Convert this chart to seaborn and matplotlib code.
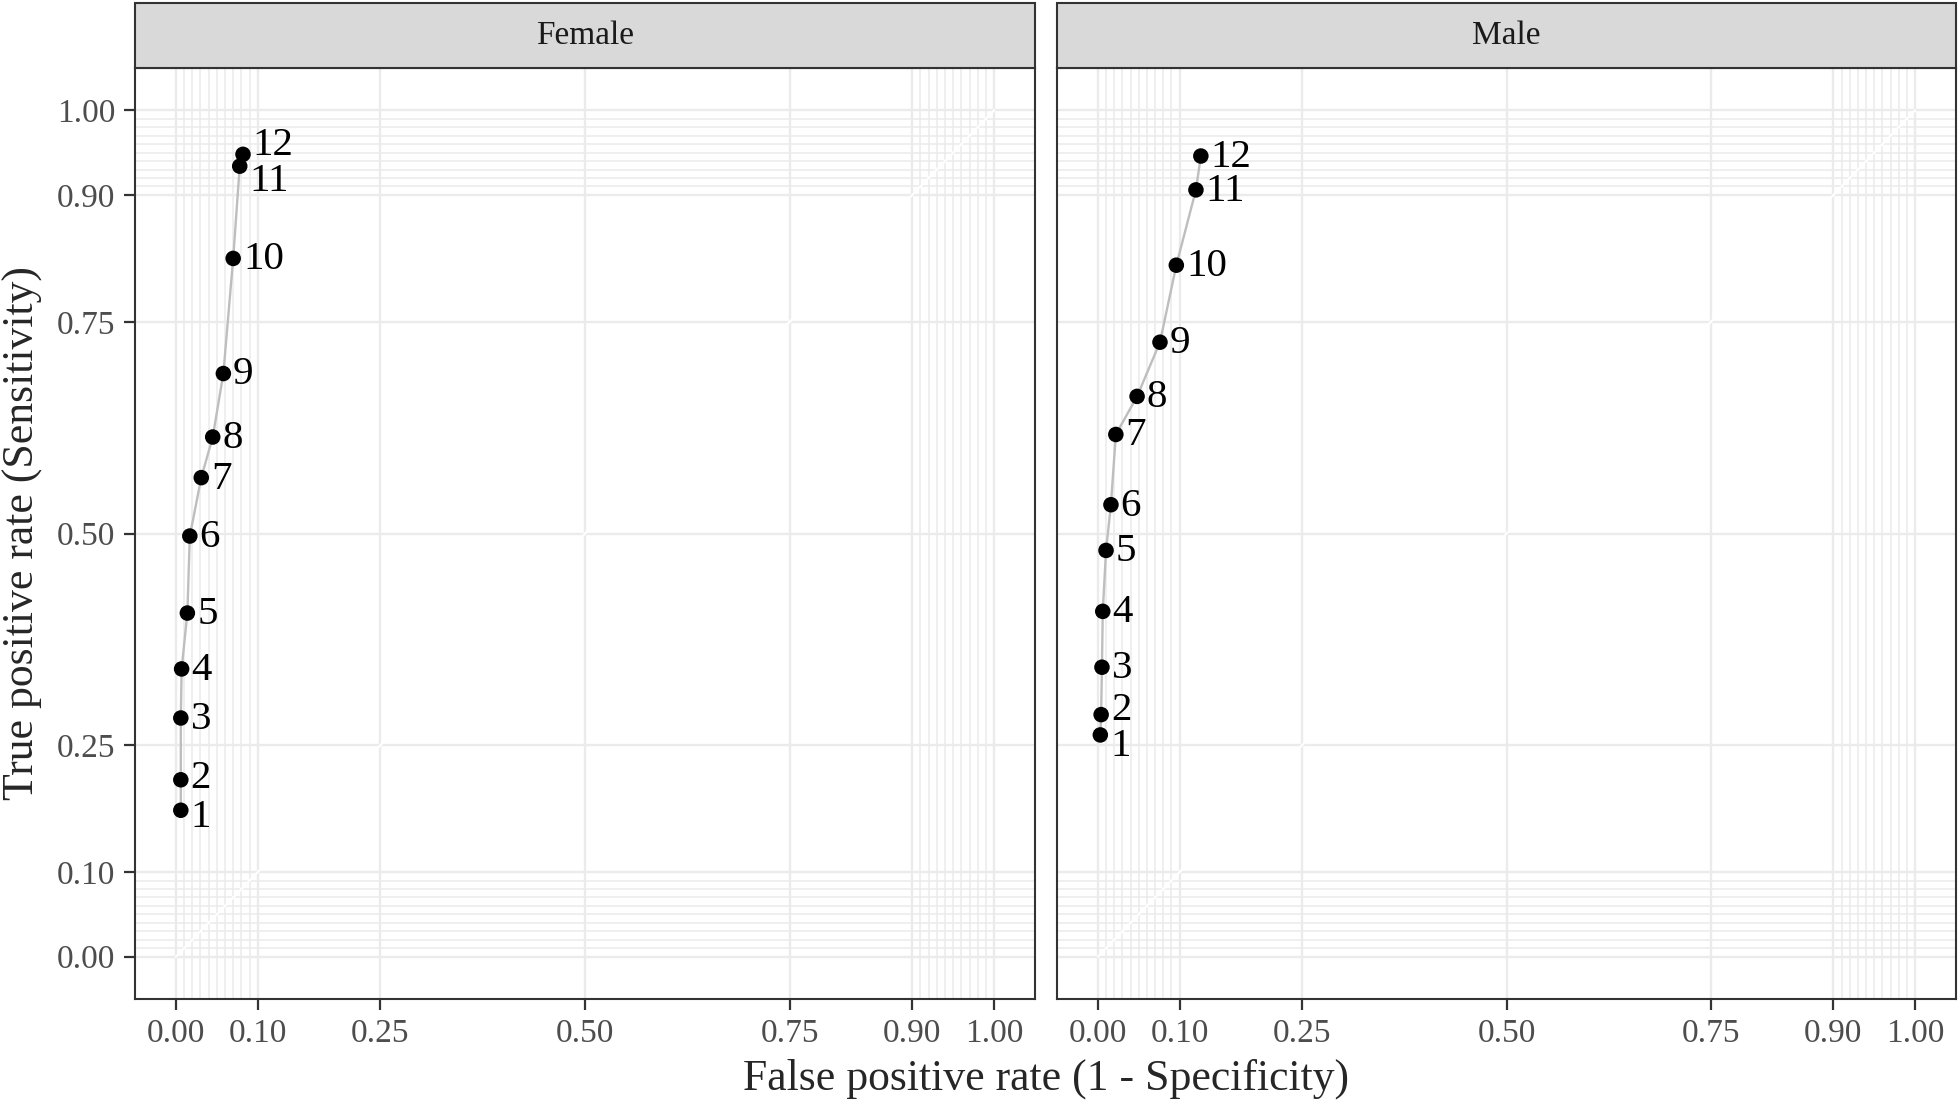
import pandas as pd
import matplotlib
matplotlib.use('Agg')
import matplotlib.pyplot as plt
import seaborn as sns
import numpy as np
from matplotlib.patches import Rectangle

# ROC points
panels = ['Female', 'Male']
cutoffs = list(range(1, 13))
female_fpr = [0.006, 0.006, 0.006, 0.007, 0.014, 0.017, 0.031, 0.045, 0.058, 0.070, 0.078, 0.082]
female_tpr = [0.173, 0.209, 0.282, 0.340, 0.406, 0.497, 0.566, 0.614, 0.689, 0.825, 0.934, 0.948]
male_fpr = [0.003, 0.004, 0.005, 0.006, 0.010, 0.016, 0.022, 0.048, 0.076, 0.096, 0.120, 0.126]
male_tpr = [0.262, 0.286, 0.342, 0.408, 0.480, 0.534, 0.617, 0.662, 0.726, 0.817, 0.906, 0.946]

major_breaks = [0.0, 0.1, 0.25, 0.5, 0.75, 0.9, 1.0]
major_labels = ['0.00', '0.10', '0.25', '0.50', '0.75', '0.90', '1.00']

df = pd.concat([
    pd.DataFrame({'panel': 'Female', 'cut': cutoffs, 'fpr': female_fpr, 'tpr': female_tpr}),
    pd.DataFrame({'panel': 'Male', 'cut': cutoffs, 'fpr': male_fpr, 'tpr': male_tpr}),
])

sns.set_theme(style='white')
plt.rcParams['font.family'] = ['Liberation Serif', 'DejaVu Serif']

W, H = 1960, 1104
fig = plt.figure(figsize=(W / 100, H / 100), dpi=100)

# panel boxes in pixels (left, right)
boxes = [(135, 1035), (1057, 1956)]
top_px, bot_px = 68, 999
strip_h = 65

# small label nudges (points) where labels would overlap
nudges = {('Female', 12): (0, 7), ('Female', 11): (0, -10),
          ('Female', 2): (0, 2), ('Female', 1): (0, -4),
          ('Male', 2): (0, 4), ('Male', 1): (0, -7)}

minor = np.r_[np.arange(0.01, 0.1, 0.01), np.arange(0.91, 1.0, 0.01)]
grid_c = '#EBEBEB'

for i, (name, (l, r)) in enumerate(zip(panels, boxes)):
    ax = fig.add_axes([l / W, 1 - bot_px / H, (r - l) / W, (bot_px - top_px) / H])
    ax.set_xlim(-0.05, 1.05)
    ax.set_ylim(-0.05, 1.05)
    for v in minor:
        ax.axvline(v, color=grid_c, lw=1.1, zorder=0)
        ax.axhline(v, color=grid_c, lw=1.1, zorder=0)
    for v in major_breaks:
        ax.axvline(v, color=grid_c, lw=1.7, zorder=0)
        ax.axhline(v, color=grid_c, lw=1.7, zorder=0)
    # white reference diagonal
    ax.plot([0, 1], [0, 1], color='white', lw=1.6, zorder=1)

    sub = df[df['panel'] == name]
    sns.lineplot(data=sub, x='fpr', y='tpr', sort=False, estimator=None,
                 color='#BEBEBE', lw=1.7, ax=ax, zorder=2)
    sns.scatterplot(data=sub, x='fpr', y='tpr', color='black', s=125,
                    edgecolor='none', ax=ax, zorder=3)
    for _, row in sub.iterrows():
        dx, dy = nudges.get((name, row['cut']), (0, 0))
        ax.annotate(str(row['cut']), (row['fpr'], row['tpr']),
                    xytext=(7 + dx, dy - 1), textcoords='offset points',
                    ha='left', va='center', fontsize=29.5, color='black', zorder=4)

    ax.set_xticks(major_breaks)
    ax.set_xticklabels(major_labels)
    ax.set_yticks(major_breaks)
    if i == 0:
        ax.set_yticklabels(major_labels)
    else:
        ax.set_yticklabels([])
    ax.set_ylabel('')
    ax.set_xlabel('')
    ax.tick_params(axis='both', which='major', direction='out', length=8, width=1.6,
                   color='#333333', labelsize=24, labelcolor='#4D4D4D', pad=6,
                   bottom=True, left=(i == 0))
    ax.grid(False)
    for sp in ax.spines.values():
        sp.set_color('#333333')
        sp.set_linewidth(1.5)
        sp.set_visible(True)

    # facet strip
    ax.add_patch(Rectangle((0, 1), 1, strip_h / (bot_px - top_px), transform=ax.transAxes,
                           facecolor='#D9D9D9', edgecolor='#333333', lw=1.5,
                           clip_on=False, zorder=5))
    ax.text(0.5, 1 + strip_h / 2 / (bot_px - top_px), name, transform=ax.transAxes,
            ha='center', va='center', fontsize=24, color='#1A1A1A', zorder=6)

fig.text((135 + 1956) / 2 / W, 1 - 1079 / H, 'False positive rate (1 - Specificity)',
         ha='center', va='center', fontsize=31.5)
fig.text(23 / W, 1 - ((top_px + bot_px) / 2) / H, 'True positive rate (Sensitivity)',
         ha='center', va='center', rotation=90, fontsize=31.5)

fig.savefig('out.png', dpi=100)
